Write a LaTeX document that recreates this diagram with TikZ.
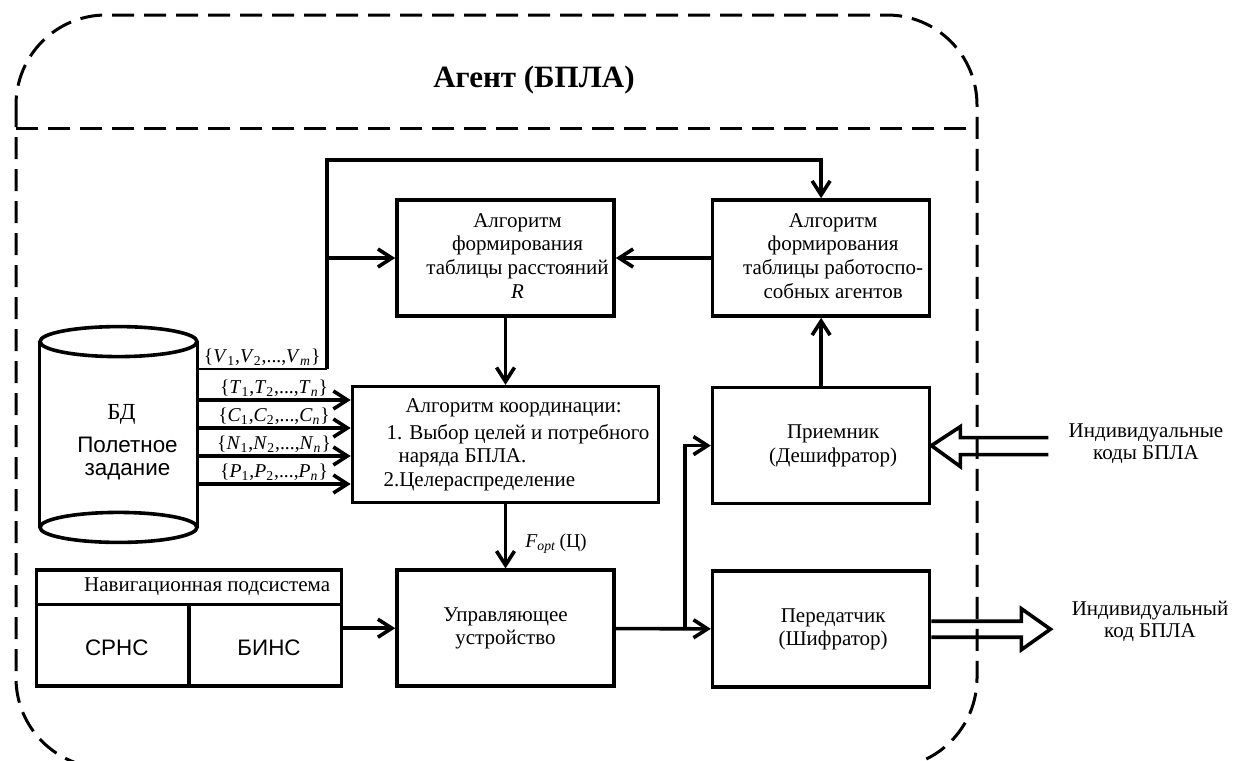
\documentclass[tikz,border=0pt]{standalone}
\usepackage{fontspec}
\setmainfont{Liberation Serif}
\setsansfont{Liberation Sans}
\usetikzlibrary{arrows.meta,positioning,calc}

\newcommand{\idx}[2]{\textit{#1}\textsubscript{#2}}
\newcommand{\btext}[1]{\hspace*{12pt}\begin{tabular}{@{}c@{}}#1\end{tabular}}

\begin{document}
\begin{tikzpicture}[
    x=0.5pt, y=-0.5pt,
    block/.style={rectangle, draw, line width=1.8pt, minimum width=108.5pt, minimum height=58pt, inner sep=0pt, font=\fontsize{10.5}{11.8}\selectfont},
    arrow/.style={-{Straight Barb[length=7pt,width=9pt]}, line width=1.8pt},
    hollow/.style={line width=1.8pt},
    outline/.style={line width=1.5pt, dash pattern=on 11pt off 5pt},
    setlbl/.style={font=\fontsize{9.8}{10}\selectfont, inner sep=1pt},
    sans/.style={font=\sffamily\fontsize{11.2}{11.5}\selectfont},
]
    \path[use as bounding box] (0,0) rectangle (1240,760);
    \clip (0,0) rectangle (1240,760);

    % Agent frame
    \draw[outline, rounded corners=45pt] (16,15) rectangle (977,768);
    \draw[outline] (16,128) -- (977,128);
    \node[font=\bfseries\fontsize{15.5}{17}\selectfont] (title) at (534,80) {Агент (БПЛА)};

    % Algorithm blocks
    \node[block] (rbox) at (505.5,258) {\btext{Алгоритм\\формирования\\таблицы расстояний\\\textit{R}}};
    \node[block, right=47.5pt of rbox] (wbox) {\btext{Алгоритм\\формирования\\таблицы работоспо-\\собных агентов}};
    \node[block, minimum width=153pt, below=33.5pt of rbox] (coord) {\begin{tabular}{@{}l@{}}\hspace*{22pt}Алгоритм координации:\\[1.5pt]
        \hspace*{12.5pt}1. Выбор целей и потребного\\ \hspace*{18.5pt}наряда БПЛА.\\ \hspace*{11pt}2.Целераспределение\end{tabular}};
    \node[block, below=34pt of wbox] (recv) {\btext{Приемник\\(Дешифратор)}};
    \node[block, below=32pt of coord] (ctrl) {\begin{tabular}{@{}c@{}}Управляющее\\устройство\end{tabular}};
    \node[block, below=32pt of recv] (trans) {\btext{Передатчик\\(Шифратор)}};

    % Navigation subsystem
    \node[block, minimum width=152.5pt, left=26pt of ctrl] (nav) {};
    \draw[line width=1.8pt] ($(nav.north west)+(0,36)$) -- ($(nav.north east)+(0,36)$);
    \draw[line width=1.8pt] ($(nav.north)+(0,36)$) -- (nav.south);
    \node[anchor=east, font=\fontsize{10.5}{12}\selectfont] (navtitle) at ($(nav.north east)+(-6,18)$) {Навигационная подсистема};
    \node[sans] (srns) at ($(nav.south west)!0.5!(nav.south)+(5,-40)$) {СРНС};
    \node[sans] (bins) at ($(nav.south)!0.5!(nav.south east)+(3,-40)$) {БИНС};

    % Database
    \node[minimum width=78.5pt, minimum height=92.5pt, inner sep=0pt] (db) at (118.5,434.5) {};
    \draw[line width=1.8pt] (db.north) ellipse [x radius=39.25pt, y radius=7.5pt];
    \draw[line width=1.8pt] (db.south) ellipse [x radius=39.25pt, y radius=7.5pt];
    \draw[line width=1.8pt] (db.north west) -- (db.south west) (db.north east) -- (db.south east);
    \node[font=\fontsize{11.5}{12}\selectfont] (dbname) at ($(db.center)+(3,-20)$) {БД};
    \node[sans, align=center] (dbtask) at ($(db.center)+(9,24)$) {Полетное\\задание};

    % Connections
    \coordinate (bend) at (327,160);
    \draw[line width=1.2pt] (db.east |- 0,369) -- (bend |- 0,369)
        node[midway, above, setlbl] {\{\idx{V}{1},\idx{V}{2},...,\idx{V}{\textit{m}}\}};
    \draw[arrow] (bend |- 0,369) -- (bend) -| (wbox.north);
    \draw[arrow] (bend |- rbox.west) -- (rbox.west);
    \draw[arrow] (wbox) -- (rbox);
    \draw[arrow] (rbox) -- (coord);
    \draw[arrow] (db.east |- 0,400) -- (coord.west |- 0,400)
        node[midway, above, setlbl] {\{\idx{T}{1},\idx{T}{2},...,\idx{T}{\textit{n}}\}};
    \draw[arrow] (db.east |- 0,428) -- (coord.west |- 0,428)
        node[midway, above, setlbl] {\{\idx{C}{1},\idx{C}{2},...,\idx{C}{\textit{n}}\}};
    \draw[arrow] (db.east |- 0,456) -- (coord.west |- 0,456)
        node[midway, above, setlbl] {\{\idx{N}{1},\idx{N}{2},...,\idx{N}{\textit{n}}\}};
    \draw[arrow] (db.east |- 0,484) -- (coord.west |- 0,484)
        node[midway, above, setlbl] {\{\idx{P}{1},\idx{P}{2},...,\idx{P}{\textit{n}}\}};
    \draw[arrow] (coord) -- (ctrl) node[midway, right=8pt, yshift=-3.5pt, setlbl] {\idx{F}{\textit{opt}}\,(Ц)};
    \draw[arrow] (recv) -- (wbox);
    \draw[arrow] (nav) -- (ctrl);
    \coordinate (split) at ($(ctrl.east)!0.73!(trans.west)$);
    \draw[arrow] (ctrl) -- (trans);
    \draw[arrow] (split) |- (recv.west);

    % External codes
    \draw[hollow] (recv.east) ++(117,-8) -- ++(-88,0) -- ++(0,-11) -- (recv.east) -- ++(29,21) -- ++(0,-12) -- ++(88,0);
    \draw[hollow] (trans.east) ++(0,-8) -- ++(90,0) -- ++(0,-12.5) -- ++(29,20.5) -- ++(-29,20.5) -- ++(0,-12.5) -- ++(-90,0);
    \node[align=center, font=\fontsize{10.5}{11}\selectfont] (codesin) at (1146,444) {Индивидуальные\\коды БПЛА};
    \node[align=center, font=\fontsize{10.5}{11}\selectfont] (codeout) at (1150,621) {Индивидуальный\\код БПЛА};
\end{tikzpicture}
\end{document}
